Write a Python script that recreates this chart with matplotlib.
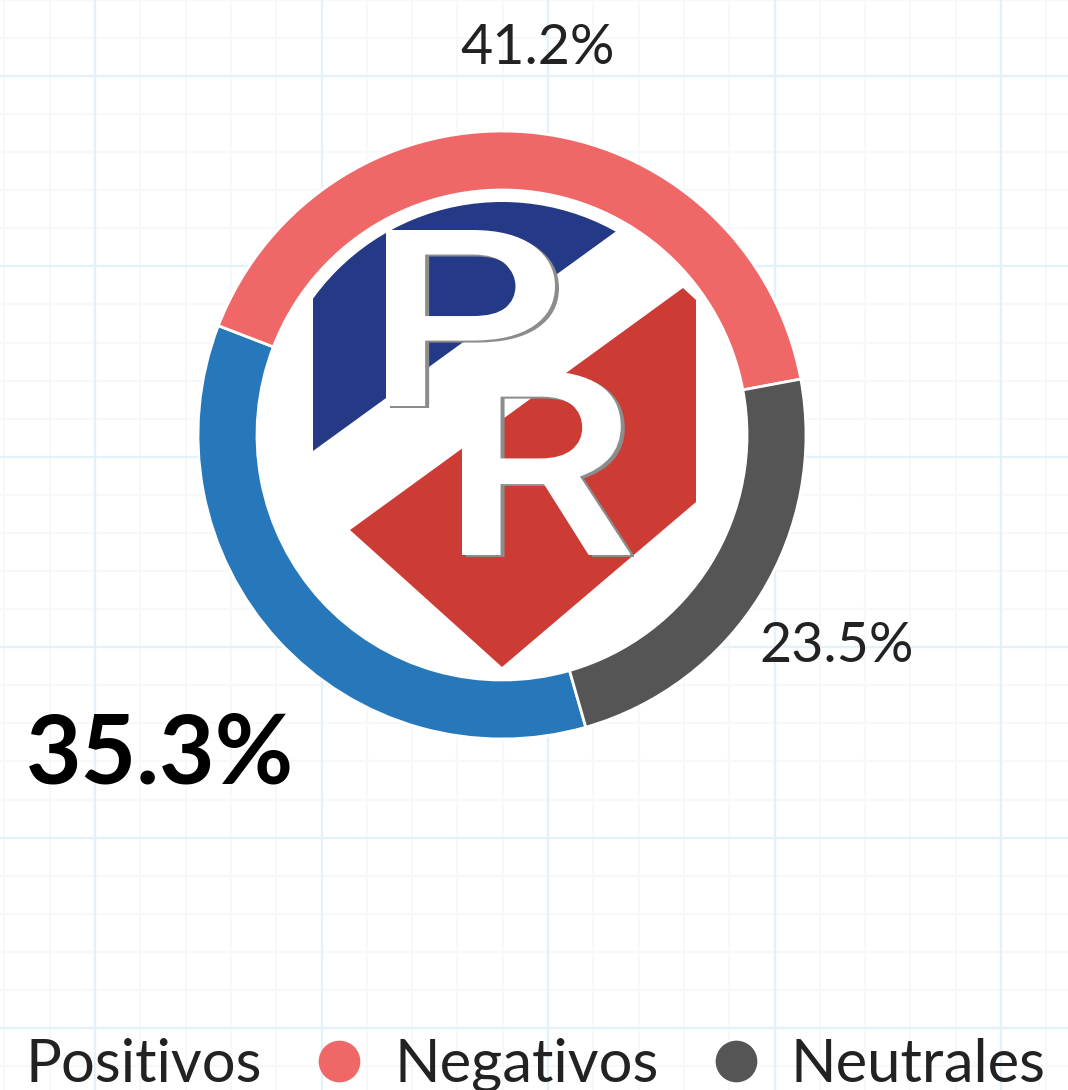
import matplotlib
matplotlib.use('Agg')
import matplotlib.pyplot as plt
import numpy as np
from matplotlib.patches import Circle, Polygon, PathPatch
from matplotlib.textpath import TextPath
from matplotlib.font_manager import FontProperties
from matplotlib.transforms import Affine2D
from matplotlib.lines import Line2D

# Sentiment shares (%)
categories = ['Positivos', 'Negativos', 'Neutrales']
values = [35.3, 41.2, 23.5]
colors = ['#2778bb', '#f06767', '#555555']

plt.rcParams['font.family'] = ['Lato', 'DejaVu Sans']

W, H = 1068, 1090
fig = plt.figure(figsize=(W / 100, H / 100), dpi=100)
ax = fig.add_axes([0, 0, 1, 1])

# graph-paper background
for x in np.arange(95 - 226.5, W + 50, 45.3):
    ax.axvline(x, color='#f6f8fa', lw=1.5, zorder=0)
for y in np.arange(76 - 190.4, H + 50, 38.08):
    ax.axhline(y, color='#f6f8fa', lw=1.5, zorder=0)
for x in np.arange(95, W + 50, 226.5):
    ax.axvline(x, color='#e2f2fb', lw=1.6, zorder=0.1)
for y in np.arange(76, H + 50, 190.4):
    ax.axhline(y, color='#e2f2fb', lw=1.6, zorder=0.1)

# doughnut
cx, cy, r_out, ring = 502, 435, 304, 59
start = 74
ax.pie(values, colors=colors, startangle=start, counterclock=True,
       radius=r_out, center=(cx, cy),
       wedgeprops=dict(width=ring, edgecolor='white', linewidth=2))

# logo in the middle
ax.add_patch(Circle((cx, cy), r_out - ring, facecolor='white', edgecolor='none', zorder=2))
clip = Circle((cx, cy), 233, transform=ax.transData)
navy = Polygon([(313, 451), (813, 88.5), (313, 88.5)], closed=True,
               facecolor='#253a87', edgecolor='none', zorder=3)
ax.add_patch(navy)
navy.set_clip_path(clip)
ax.add_patch(Polygon([(350, 530), (683, 288), (696, 300), (696, 502), (502, 667)],
                     closed=True, facecolor='#cd3b35', edgecolor='none', zorder=3))

fp = FontProperties(family='Roboto', weight='medium')


def letter(ch, x0, x1, y0, y1):
    tp = TextPath((0, 0), ch, size=1, prop=fp)
    bb = tp.get_extents()
    for dx, dy, col, z in [(4, 2, '#8c8c8c', 4), (0, 0, 'white', 5)]:
        tr = (Affine2D().translate(-bb.x0, -bb.y1)
              .scale((x1 - x0) / bb.width, -(y1 - y0) / bb.height)
              .translate(x0 + dx, y0 + dy))
        ax.add_patch(PathPatch(tp, transform=tr + ax.transData,
                               facecolor=col, edgecolor='none', zorder=z))


letter('P', 386, 555, 230, 406)
letter('R', 462, 630, 371, 555)

# value labels around the ring
label_dist = [463, 393, 393]
label_size = [69, 40, 40]
label_weight = ['bold', 'normal', 'normal']
label_color = ['black', '#222222', '#222222']
cum = np.cumsum([0] + values[:-1])
for v, c0, d, s, w, col in zip(values, cum, label_dist, label_size, label_weight, label_color):
    mid = np.deg2rad(start + (c0 + v / 2) * 3.6)
    ax.text(cx + d * np.cos(mid), cy + d * np.sin(mid), f'{v}%',
            ha='center', va='center_baseline', fontsize=s, fontweight=w, color=col, zorder=6)

# legend (first marker runs off the left edge)
handles = [Line2D([], [], ls='none', marker='o', markersize=29,
                  markerfacecolor=c, markeredgecolor=c) for c in colors]
ax.legend(handles, categories, loc='center left', bbox_to_anchor=(-53, 1065),
          bbox_transform=ax.transData, ncol=3, frameon=False, fontsize=43,
          handlelength=0.8, handletextpad=0.52, columnspacing=0.89,
          borderpad=0, borderaxespad=0, labelcolor='#222222')

ax.set_xlim(0, W)
ax.set_ylim(H, 0)
ax.axis('off')

fig.savefig('out.png', dpi=100)
